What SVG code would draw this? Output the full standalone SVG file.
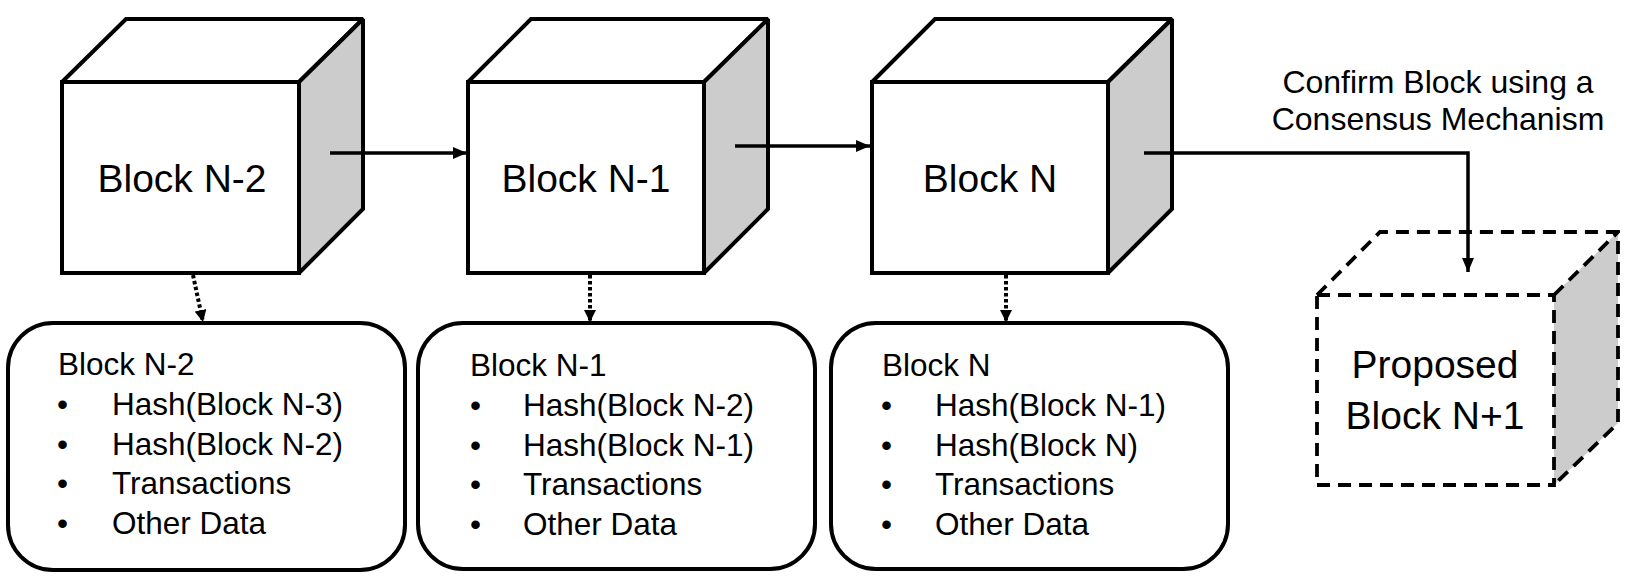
<svg xmlns="http://www.w3.org/2000/svg" width="1632" height="578" viewBox="0 0 1632 578">
<defs>
<style>
.face{fill:#ffffff;stroke:#000;stroke-width:4;stroke-linejoin:miter;stroke-miterlimit:2}
.side{fill:#cccccc;stroke:#000;stroke-width:4;stroke-linejoin:miter;stroke-miterlimit:2}
.dface{fill:none;stroke:#000;stroke-width:3.8;stroke-dasharray:13 8}
.dside{fill:#cccccc;stroke:none}
.dline{fill:none;stroke:#000;stroke-width:3.8;stroke-dasharray:13 8;stroke-miterlimit:2}
.title{font-family:"Liberation Sans",Arial,sans-serif;font-size:39px;fill:#000;text-anchor:middle}
.list{font-family:"Liberation Sans",Arial,sans-serif;font-size:31.5px;fill:#000}
.label{font-family:"Liberation Sans",Arial,sans-serif;font-size:32px;fill:#000;text-anchor:middle}
.box{fill:#fff;stroke:#000;stroke-width:4}
.conn{fill:none;stroke:#000;stroke-width:3.5}
.dot{fill:none;stroke:#000;stroke-width:4;stroke-dasharray:3.5 2.5}
</style>
<marker id="ah" viewBox="0 0 14 12" refX="14" refY="6" markerWidth="14" markerHeight="12" markerUnits="userSpaceOnUse" orient="auto">
<path d="M0,0 L14,6 L0,12 z" fill="#000"/>
</marker>
<marker id="ahs" viewBox="0 0 12 12" refX="12" refY="6" markerWidth="12" markerHeight="12" markerUnits="userSpaceOnUse" orient="auto">
<path d="M0,0 L12,6 L0,12 z" fill="#000"/>
</marker>
</defs>
<rect width="1632" height="578" fill="#fff"/>

<g id="block-n-2">
<polygon class="face" points="62,82 126,19 363,19 299,82"/>
<polygon class="side" points="299,82 363,19 363,209 299,273"/>
<rect class="face" x="62" y="82" width="237" height="191"/>
<text class="title" x="182" y="192">Block N-2</text>
</g>

<g id="block-n-1">
<polygon class="face" points="468,82 531,19 768,19 704,82"/>
<polygon class="side" points="704,82 768,19 768,209 704,273"/>
<rect class="face" x="468" y="82" width="236" height="191"/>
<text class="title" x="586" y="192">Block N-1</text>
</g>

<g id="block-n">
<polygon class="face" points="872,82 935,19 1172,19 1108,82"/>
<polygon class="side" points="1108,82 1172,19 1172,209 1108,273"/>
<rect class="face" x="872" y="82" width="236" height="191"/>
<text class="title" x="990" y="192">Block N</text>
</g>

<g id="proposed-block">
<polygon class="dside" points="1554,295 1618,232 1618,423 1554,485"/>
<polyline class="dline" points="1317,295 1380,232 1618,232 1618,423 1554,485"/>
<line class="dline" x1="1554" y1="295" x2="1618" y2="232"/>
<rect class="dface" x="1317" y="295" width="237" height="190"/>
<text class="title" x="1435" y="378">Proposed</text>
<text class="title" x="1435" y="429">Block N+1</text>
</g>

<g id="details-n-2">
<rect class="box" x="8" y="323" width="397" height="247" rx="45" ry="45"/>
<text class="list" x="58" y="375">Block N-2</text>
<text class="list" x="57" y="415">•</text><text class="list" x="112" y="415">Hash(Block N-3)</text>
<text class="list" x="57" y="455">•</text><text class="list" x="112" y="455">Hash(Block N-2)</text>
<text class="list" x="57" y="494">•</text><text class="list" x="112" y="494">Transactions</text>
<text class="list" x="57" y="534">•</text><text class="list" x="112" y="534">Other Data</text>
</g>

<g id="details-n-1">
<rect class="box" x="418" y="323" width="397" height="246" rx="45" ry="45"/>
<text class="list" x="470" y="376">Block N-1</text>
<text class="list" x="470" y="416">•</text><text class="list" x="523" y="416">Hash(Block N-2)</text>
<text class="list" x="470" y="456">•</text><text class="list" x="523" y="456">Hash(Block N-1)</text>
<text class="list" x="470" y="495">•</text><text class="list" x="523" y="495">Transactions</text>
<text class="list" x="470" y="535">•</text><text class="list" x="523" y="535">Other Data</text>
</g>

<g id="details-n">
<rect class="box" x="831" y="323" width="397" height="246" rx="45" ry="45"/>
<text class="list" x="882" y="376">Block N</text>
<text class="list" x="881" y="416">•</text><text class="list" x="935" y="416">Hash(Block N-1)</text>
<text class="list" x="881" y="456">•</text><text class="list" x="935" y="456">Hash(Block N)</text>
<text class="list" x="881" y="495">•</text><text class="list" x="935" y="495">Transactions</text>
<text class="list" x="881" y="535">•</text><text class="list" x="935" y="535">Other Data</text>
</g>

<g id="connectors">
<line class="conn" x1="330" y1="153" x2="467" y2="153" marker-end="url(#ah)"/>
<line class="conn" x1="735" y1="146" x2="870" y2="146" marker-end="url(#ah)"/>
<polyline class="conn" points="1144,153 1468,153 1468,272" marker-end="url(#ah)"/>
<line class="dot" x1="193" y1="275" x2="203" y2="322" marker-end="url(#ahs)"/>
<line class="dot" x1="590" y1="275" x2="590" y2="322" marker-end="url(#ahs)"/>
<line class="dot" x1="1006" y1="275" x2="1006" y2="322" marker-end="url(#ahs)"/>
<text class="label" x="1438" y="93">Confirm Block using a</text>
<text class="label" x="1438" y="130">Consensus Mechanism</text>
</g>
</svg>
